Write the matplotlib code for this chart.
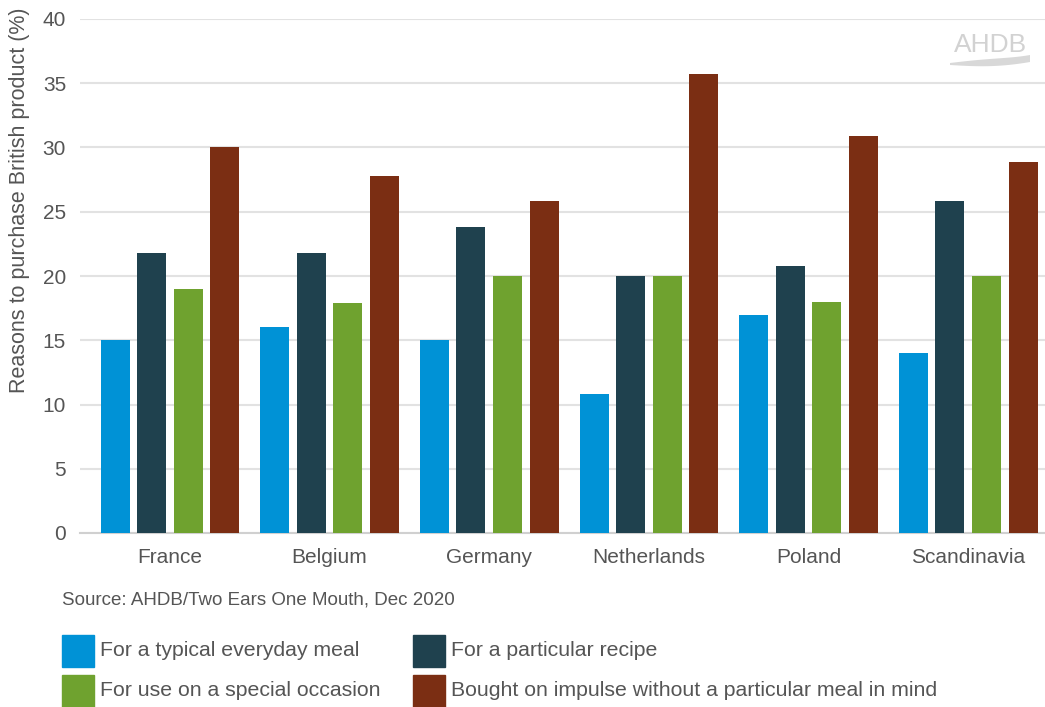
import matplotlib
matplotlib.use("Agg")
import matplotlib.pyplot as plt
import numpy as np
from matplotlib.patches import Rectangle, Polygon

plt.rcParams['font.family'] = ['Liberation Sans', 'DejaVu Sans']

countries = ["France", "Belgium", "Germany", "Netherlands", "Poland", "Scandinavia"]
series_names = [
    "For a typical everyday meal",
    "For a particular recipe",
    "For use on a special occasion",
    "Bought on impulse without a particular meal in mind",
]
everyday = [15, 16, 15, 10.8, 17, 14]
recipe = [21.8, 21.8, 23.8, 20, 20.8, 25.8]
occasion = [19, 17.9, 20, 20, 18, 20]
impulse = [30, 27.8, 25.8, 35.7, 30.9, 28.9]
yticks = [0, 5, 10, 15, 20, 25, 30, 35, 40]

colors = ["#0092D6", "#1F414E", "#6FA22F", "#7B2E13"]
text_col = "#555555"

W, H = 1045, 707
fig = plt.figure(figsize=(W / 100, H / 100), dpi=100)
ax = fig.add_axes([80 / W, (H - 533) / H, (1045 - 80) / W, (533 - 19) / H])

x = np.arange(len(countries))
width = 0.182
step = 0.229
all_series = [everyday, recipe, occasion, impulse]
for i, (vals, c) in enumerate(zip(all_series, colors)):
    ax.bar(x + (i - 1.5) * step, vals, width, color=c, zorder=3)

ax.set_ylim(0, 40)
ax.set_xlim(-0.5 - 0.063, 5.5 - 0.019)
ax.set_yticks(yticks)
ax.set_xticks(x)
ax.set_xticklabels(countries)
ax.grid(axis='y', color='#e2e2e2', linewidth=1.5, zorder=0)
for s in ['top', 'right', 'left']:
    ax.spines[s].set_visible(False)
ax.spines['bottom'].set_color('#d0d0d0')
ax.spines['bottom'].set_linewidth(1.5)
ax.tick_params(axis='both', length=0, colors=text_col, labelsize=15)
ax.tick_params(axis='y', pad=10)
ax.tick_params(axis='x', pad=11)

# axis title, placed toward the top of the left margin
fig.text(20 / W, 1 - 200 / H, "Reasons to purchase British product (%)",
         rotation=90, fontsize=15.5, color=text_col, ha='center', va='center')

# source note
fig.text(62 / W, 1 - 600 / H, "Source: AHDB/Two Ears One Mouth, Dec 2020",
         fontsize=13.5, color=text_col, va='center', ha='left')

# legend
legend_pos = [(62, 651), (413, 651), (62, 691), (413, 691)]
for (lx, ly), name, c in zip(legend_pos, series_names, colors):
    fig.patches.append(Rectangle((lx / W, 1 - (ly + 16) / H), 32 / W, 32 / H,
                                 transform=fig.transFigure, color=c))
    fig.text((lx + 38) / W, 1 - ly / H, name, fontsize=15.3, color=text_col,
             va='center', ha='left')

# logo
fig.text(991 / W, 1 - 45 / H, "AHDB", fontsize=19, color='#d2d2d2',
         ha='center', va='center')
t = np.linspace(0, 1, 60)
sx = 950 + t * 80
upper = 63 - 3 * np.sin(t * np.pi) - 8 * t ** 3
lower = 65 + 1.5 * np.sin(t * np.pi) - 3 * t ** 3
pts = np.vstack([np.column_stack([sx, upper]), np.column_stack([sx[::-1], lower[::-1]])])
pts_fig = np.column_stack([pts[:, 0] / W, 1 - pts[:, 1] / H])
fig.patches.append(Polygon(pts_fig, closed=True, transform=fig.transFigure,
                           facecolor='#d8d8d8', edgecolor='none'))

fig.savefig("out.png", dpi=100)
